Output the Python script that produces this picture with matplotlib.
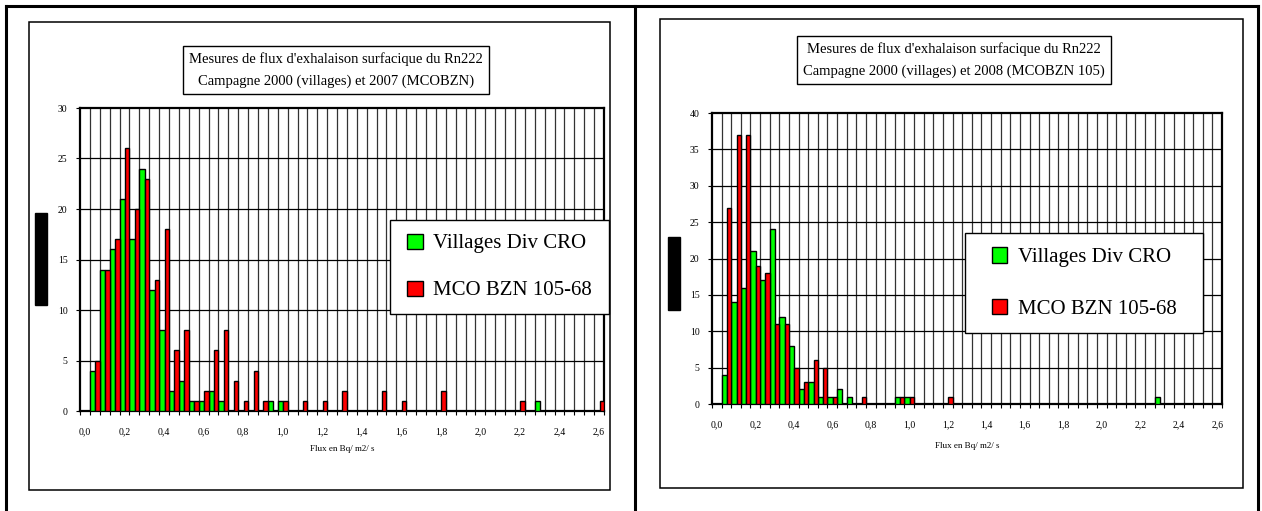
import numpy as np
import matplotlib
matplotlib.use("Agg")
import matplotlib.pyplot as plt
from matplotlib.patches import Rectangle
from matplotlib.lines import Line2D

plt.rcParams['font.family'] = ['Liberation Serif', 'DejaVu Serif']

W, H = 1262, 511

# flux classes, 0.00 .. 2.60 by 0.05 (53 classes)
classes = [round(0.05 * i, 2) for i in range(53)]
tick_labels = ["0,0", "0,2", "0,4", "0,6", "0,8", "1,0", "1,2",
               "1,4", "1,6", "1,8", "2,0", "2,2", "2,4", "2,6"]

# chart 1 : campagne 2000 (villages) et 2007 (MCOBZN)
villages_1 = [0, 4, 14, 16, 21, 17, 24, 12, 8, 2, 3, 1, 1, 2, 1, 0, 0, 0, 0, 1,
              1, 0, 0, 0, 0, 0, 0, 0, 0, 0, 0, 0, 0, 0, 0, 0, 0, 0, 0, 0,
              0, 0, 0, 0, 0, 0, 1, 0, 0, 0, 0, 0, 0]
mco_1 = [0, 5, 14, 17, 26, 20, 23, 13, 18, 6, 8, 1, 2, 6, 8, 3, 1, 4, 1, 0,
         1, 0, 1, 0, 1, 0, 2, 0, 0, 0, 2, 0, 1, 0, 0, 0, 2, 0, 0, 0,
         0, 0, 0, 0, 1, 0, 0, 0, 0, 0, 0, 0, 1]

# chart 2 : campagne 2000 (villages) et 2008 (MCOBZN 105)
villages_2 = [0, 4, 14, 16, 21, 17, 24, 12, 8, 2, 3, 1, 1, 2, 1, 0, 0, 0, 0, 1,
              1, 0, 0, 0, 0, 0, 0, 0, 0, 0, 0, 0, 0, 0, 0, 0, 0, 0, 0, 0,
              0, 0, 0, 0, 0, 0, 1, 0, 0, 0, 0, 0, 0]
mco_2 = [0, 27, 37, 37, 19, 18, 11, 11, 5, 3, 6, 5, 1, 0, 0, 1, 0, 0, 0, 1,
         1, 0, 0, 0, 1, 0, 0, 0, 0, 0, 0, 0, 0, 0, 0, 0, 0, 0, 0, 0,
         0, 0, 0, 0, 0, 0, 0, 0, 0, 0, 0, 0, 0]

series_names = ["Villages Div CRO", "MCO BZN 105-68"]
titles = ["Mesures de flux d'exhalaison surfacique du Rn222\nCampagne 2000 (villages) et 2007 (MCOBZN)",
          "Mesures de flux d'exhalaison surfacique du Rn222\nCampagne 2000 (villages) et 2008 (MCOBZN 105)"]
xlabel = "Flux en Bq/ m2/ s"

fig = plt.figure(figsize=(W / 100, H / 100), dpi=100)

# background overlay in pixel coordinates
bg = fig.add_axes([0, 0, 1, 1])
bg.set_xlim(0, W)
bg.set_ylim(H, 0)
bg.axis("off")
# table borders
for seg in [((6, 6), (6, H)), ((6, 1258), (6, 6)), ((635, 635), (6, H)), ((1258, 1258), (6, H))]:
    bg.add_line(Line2D(seg[0], seg[1], color="black", lw=2.2))
# chart areas
bg.add_patch(Rectangle((29, 22), 581, 468, fill=False, ec="black", lw=1.1))
bg.add_patch(Rectangle((660, 19), 583, 469, fill=False, ec="black", lw=1.1))
# black blocks where the y labels were
bg.add_patch(Rectangle((35, 213), 12, 92, color="black"))
bg.add_patch(Rectangle((668, 237), 12, 73, color="black"))


def px_axes(x0, y0, x1, y1):
    return fig.add_axes([x0 / W, 1 - y1 / H, (x1 - x0) / W, (y1 - y0) / H])


def draw_chart(ax, green, red, ymax, title, title_xy, leg_box, lspace, xpad):
    n = len(classes)
    idx = np.arange(n)
    g = ax.bar(idx, green, width=0.55, align="edge", color="#00ff00",
               edgecolor="black", linewidth=1.0, zorder=3, label=series_names[0])
    r = ax.bar(idx + 0.55, red, width=0.45, align="edge", color="#ff0000",
               edgecolor="black", linewidth=1.0, zorder=3, label=series_names[1])
    ax.set_xlim(0, n)
    ax.set_ylim(0, ymax)
    for k in range(1, n):
        ax.axvline(k, color="#333333", lw=0.9, zorder=1)
    for v in range(5, ymax, 5):
        ax.axhline(v, color="black", lw=0.9, zorder=1)
    for s in ax.spines.values():
        s.set_linewidth(1.6)
    ax.set_yticks(range(0, ymax + 1, 5))
    ax.tick_params(axis="y", length=3, labelsize=7, pad=6)
    ax.set_xticks(np.arange(n + 1))
    ax.set_xticklabels([])
    ax.tick_params(axis="x", which="major", length=3)
    ax.set_xticks(idx[::4] + 0.5, minor=True)
    ax.set_xticklabels(tick_labels, minor=True)
    ax.tick_params(axis="x", which="minor", length=0, labelsize=7, pad=12)
    ax.set_xlabel(xlabel, fontsize=6.5, labelpad=xpad)
    fig.text(title_xy[0] / W, 1 - title_xy[1] / H, title, ha="center", va="center",
             fontsize=10.5, linespacing=1.75,
             bbox=dict(boxstyle="square,pad=0.45", fc="white", ec="black", lw=1.0))
    # legend box drawn by hand, entries from matplotlib
    x0, y0, x1, y1 = leg_box
    ax.add_patch(Rectangle((x0 / W, 1 - y1 / H), (x1 - x0) / W, (y1 - y0) / H,
                           transform=fig.transFigure, fc="white", ec="black",
                           lw=1.0, clip_on=False, zorder=4))
    leg = ax.legend(handles=[g, r], loc="center",
                    bbox_to_anchor=((x0 + x1) / 2 / W, 1 - (y0 + y1) / 2 / H),
                    bbox_transform=fig.transFigure, fontsize=15, frameon=False,
                    handlelength=0.75, handleheight=0.75, handletextpad=0.5,
                    labelspacing=lspace, borderpad=0, borderaxespad=0)
    leg.set_zorder(5)


ax1 = px_axes(80, 108, 604, 411)
draw_chart(ax1, villages_1, mco_1, 30, titles[0], (336, 70), (390, 220, 609, 314), 1.3, 6)

ax2 = px_axes(712, 113, 1222, 404)
draw_chart(ax2, villages_2, mco_2, 40, titles[1], (954, 60), (965, 233, 1203, 333), 1.5, 9)

fig.savefig("out.png", dpi=100)
